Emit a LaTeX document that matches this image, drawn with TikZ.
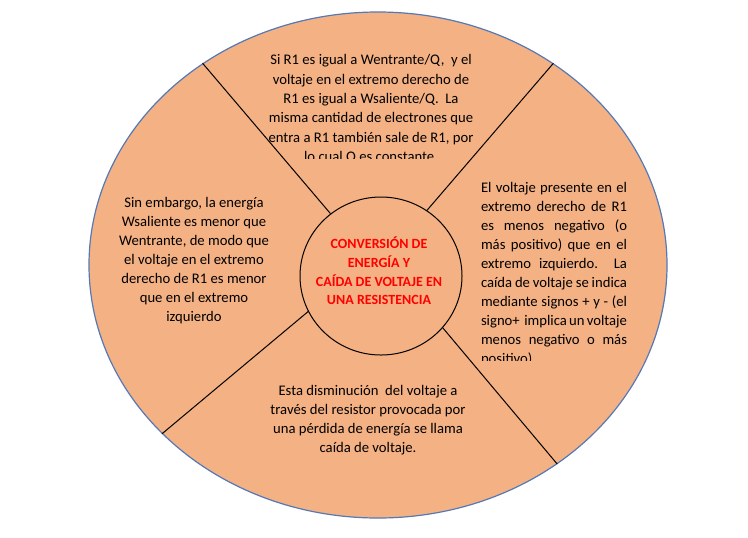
\documentclass[tikz,border=0pt]{standalone}
\usepackage{fontspec}
\setmainfont{Carlito}
\usetikzlibrary{shapes.geometric}
\definecolor{salmon}{HTML}{F4B183}
\definecolor{rimblue}{HTML}{5579B5}
\definecolor{titlered}{HTML}{FF0000}
\begin{document}
\begin{tikzpicture}[x=0.75pt,y=-0.75pt,
  rim/.style={ellipse, draw=rimblue, line width=0.9pt, fill=salmon, inner sep=0pt},
  hub/.style={ellipse, draw=black, line width=0.75pt, fill=salmon, inner sep=0pt},
  spoke/.style={draw=black, line width=0.75pt},
  body/.style={font=\fontsize{11}{14.25}\selectfont, align=center, inner sep=0pt, text=black},
  heading/.style={font=\bfseries\fontsize{10.5}{14}\selectfont, align=center, text=titlered, inner sep=0pt}]
\useasboundingbox (0,0) rectangle (748,537);

% outer disc and central hub
\node[rim, minimum width=433.5pt, minimum height=379.5pt] (outer) at (378,265) {};
\node[hub, minimum width=121.5pt, minimum height=118.5pt] (inner) at (381,276) {};

% four spokes dividing the disc
\draw[spoke] (inner.129.7) -- (outer.131.8);
\draw[spoke] (inner.55.7)  -- (outer.49.0);
\draw[spoke] (inner.206.2) -- (outer.218.1);
\draw[spoke] (inner.320.4) -- (outer.312.4);

% central title
\node[heading] (title) at (379,271)
  {CONVERSIÓN DE\\ENERGÍA Y\\CAÍDA DE VOLTAJE EN\\UNA RESISTENCIA};

% top sector (text box cut off at its lower edge)
\begin{scope}
  \clip (0,0) rectangle (748,158);
  \node[body, font=\fontsize{11}{14.5}\selectfont] (top) at (371,109)
    {Si R1 es igual a Wentrante/Q,\ \ y el\\
     voltaje\ en el extremo derecho de\\
     R1 es igual a Wsaliente/Q.\ \ La\\
     misma cantidad de electrones que\\
     entra a R1 también sale de R1, por\\
     lo cual Q es constante.};
\end{scope}

% left sector
\node[body] (left) at (194,261)
  {Sin\ embargo, la energía\\
   Wsaliente\ es menor\ que\\
   Wentrante, de modo\ que\\
   el voltaje\ en el extremo\\
   derecho\ de R1 es menor\\
   que en el extremo\\
   izquierdo};

% right sector, justified lines (text box cut off at its lower edge)
\begin{scope}
  \clip (0,0) rectangle (748,360);
  \node[body, align=left] (right) at (554,274)
    {\makebox[109.5pt][s]{El voltaje presente en el}\\
     \makebox[109.5pt][s]{extremo derecho de R1}\\
     \makebox[109.5pt][s]{es menos negativo (o}\\
     \makebox[109.5pt][s]{más positivo) que en el}\\
     \makebox[109.5pt][s]{extremo izquierdo.\ \ La}\\
     \makebox[109.5pt][s]{caída de voltaje se indica}\\
     \makebox[109.5pt][s]{mediante signos + y - (el}\\
     \makebox[109.5pt][s]{signo+\ \ implica un voltaje}\\
     \makebox[109.5pt][s]{menos negativo o más}\\
     positivo)};
\end{scope}

% bottom sector
\node[body] (bottom) at (368,420)
  {Esta disminución\ \ del voltaje a\\
   través del resistor provocada\ por\\
   una pérdida\ de energía se llama\\
   caída de voltaje.};
\end{tikzpicture}
\end{document}
